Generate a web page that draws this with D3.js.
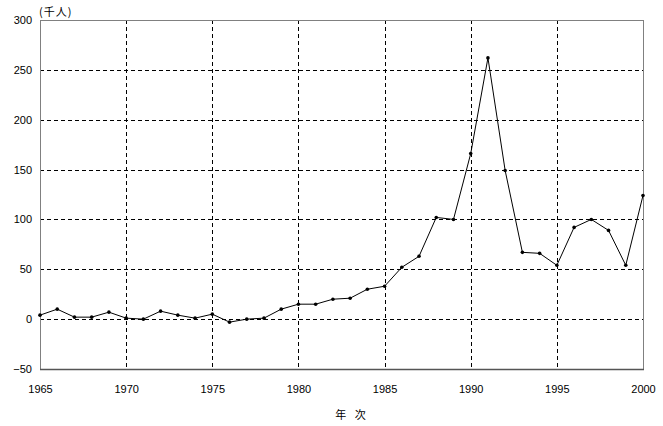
<!DOCTYPE html>
<html>
<head>
<meta charset="utf-8">
<script src="https://cdn.jsdelivr.net/npm/d3@7/dist/d3.min.js"></script>
<style>
  body { margin: 0; background: #fff; }
  svg { display: block; }
  text { font-family: "Liberation Sans", Arial, sans-serif; font-size: 11px; fill: #000; }
</style>
</head>
<body>
<svg id="chart" width="663" height="426"></svg>
<script>
// years and values (thousand persons)
var years = d3.range(1965, 2001);
var values = [4, 10, 2, 2, 7, 1, 0, 8, 4, 1, 5, -3, 0, 1, 10, 15, 15, 20, 21, 30, 33, 52,
              63, 102, 100, 166, 262, 149, 67, 66, 54, 92, 100, 89, 54, 124];
var yTicks = [-50, 0, 50, 100, 150, 200, 250, 300];
var xTicks = [1965, 1970, 1975, 1980, 1985, 1990, 1995, 2000];
var unitLabel = "(千人)";
var xTitle = "年 次";

var drawChart = function () {
    let svg = d3.select("#chart"),
        ds = years.map((y, i) => ({dim: y, metric: values[i]})),
        cs = {
            pallette: { line: "#000", frame: "#808080", axis: "#555", grid: "#000" },
            left: 40, right: 643, top: 20, bottom: 369
        };

    cs.x = d3.scaleLinear().domain([1965, 2000]).range([cs.left, cs.right]);
    cs.y = d3.scaleLinear().domain([-50, 300]).range([cs.bottom, cs.top]);

    // gridlines
    svg.append("g").selectAll("line")
        .data(yTicks.filter(t => t > -50 && t < 300))
        .enter().append("line")
        .attr("x1", cs.left).attr("x2", cs.right)
        .attr("y1", d => Math.round(cs.y(d)) + 0.5).attr("y2", d => Math.round(cs.y(d)) + 0.5)
        .attr("stroke", cs.pallette.grid).attr("stroke-dasharray", "4,3");

    svg.append("g").selectAll("line")
        .data(xTicks.filter(t => t > 1965 && t < 2000))
        .enter().append("line")
        .attr("x1", d => Math.round(cs.x(d)) + 0.5).attr("x2", d => Math.round(cs.x(d)) + 0.5)
        .attr("y1", cs.top).attr("y2", cs.bottom)
        .attr("stroke", cs.pallette.grid).attr("stroke-dasharray", "4,3");

    // frame
    svg.append("rect")
        .attr("x", cs.left + 0.5).attr("y", cs.top + 0.5)
        .attr("width", cs.right - cs.left).attr("height", cs.bottom - cs.top)
        .attr("fill", "none").attr("stroke", cs.pallette.frame);
    svg.append("line")
        .attr("x1", cs.left).attr("x2", cs.right + 1)
        .attr("y1", cs.bottom + 0.5).attr("y2", cs.bottom + 0.5)
        .attr("stroke", cs.pallette.axis).attr("stroke-width", 1.5);

    // axes labels
    let yAxis = d3.axisLeft(cs.y).tickValues(yTicks).tickSize(0).tickPadding(8);
    svg.append("g").attr("transform", "translate(" + cs.left + ",0)").call(yAxis)
        .call(g => g.select(".domain").remove());
    let xAxis = d3.axisBottom(cs.x).tickValues(xTicks).tickSize(0).tickPadding(16).tickFormat(d3.format("d"));
    svg.append("g").attr("transform", "translate(0," + cs.bottom + ")").call(xAxis)
        .call(g => g.select(".domain").remove());
    svg.selectAll(".tick text").attr("font-size", 11).attr("font-family", "Liberation Sans, Arial, sans-serif");

    // line
    cs.lineFunction = d3.line().x(d => cs.x(d.dim)).y(d => cs.y(d.metric));
    svg.append("path").datum(ds)
        .attr("fill", "none").attr("stroke", cs.pallette.line).attr("stroke-width", 1)
        .attr("d", cs.lineFunction);
    svg.append("g").selectAll("circle").data(ds).enter().append("circle")
        .attr("cx", d => cs.x(d.dim)).attr("cy", d => cs.y(d.metric))
        .attr("r", 1.8).attr("fill", "#000");

    // titles
    svg.append("text").attr("x", 39).attr("y", 16).text(unitLabel)
        .style("font-family", "'Noto Sans CJK JP', sans-serif").style("font-size", "11px")
        .style("letter-spacing", "1px");
    svg.append("text").attr("x", 352).attr("y", 419).attr("text-anchor", "middle").text(xTitle)
        .style("font-family", "'Noto Sans CJK JP', sans-serif").style("font-size", "11px")
        .style("white-space", "pre").style("letter-spacing", "3px");
};

drawChart();
</script>
</body>
</html>
